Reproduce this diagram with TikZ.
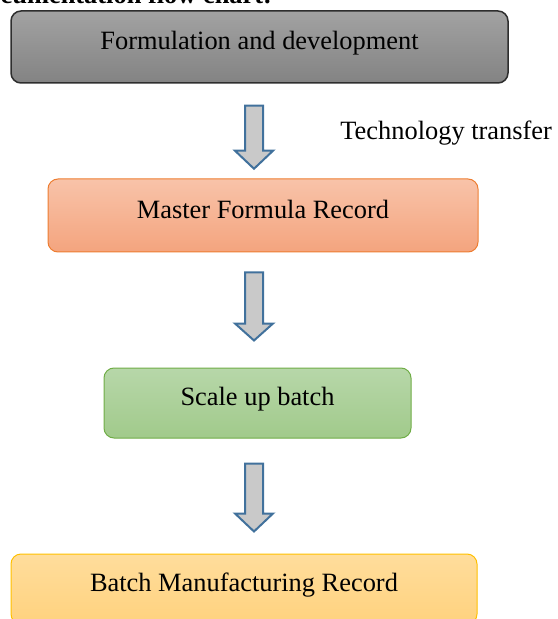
\documentclass[tikz,border=0pt]{standalone}
\usepackage{fontspec}
\setmainfont{Liberation Serif}
\usetikzlibrary{calc}

\definecolor{grayTop}{HTML}{A2A2A2}
\definecolor{grayBot}{HTML}{838383}
\definecolor{grayLine}{HTML}{2E2E2E}
\definecolor{salmonTop}{HTML}{F8C3A9}
\definecolor{salmonBot}{HTML}{F4A47E}
\definecolor{salmonLine}{HTML}{ED7D31}
\definecolor{greenTop}{HTML}{B7D7A9}
\definecolor{greenBot}{HTML}{A1CA8B}
\definecolor{greenLine}{HTML}{70AD47}
\definecolor{goldTop}{HTML}{FFDD9C}
\definecolor{goldBot}{HTML}{FFD27E}
\definecolor{goldLine}{HTML}{FFC000}
\definecolor{arrowFill}{HTML}{C9C9C9}
\definecolor{arrowLine}{HTML}{41719C}

\tikzset{
  stagebox/.style={rectangle, rounded corners=5pt, inner sep=0pt,
    text height=5.6pt, text depth=3pt,
    font=\fontsize{13.2}{15}\selectfont},
  darkbox/.style={stagebox, top color=grayTop, bottom color=grayBot,
    draw=grayLine, line width=0.75pt},
  mfrbox/.style={stagebox, top color=salmonTop, bottom color=salmonBot,
    draw=salmonLine, line width=0.5pt},
  scalebox/.style={stagebox, top color=greenTop, bottom color=greenBot,
    draw=greenLine, line width=0.5pt},
  bmrbox/.style={stagebox, top color=goldTop, bottom color=goldBot,
    draw=goldLine, line width=0.5pt},
  blockdown/.style={fill=arrowFill, draw=arrowLine, line width=1pt,
    line join=miter},
  plaintext/.style={inner sep=0pt, font=\fontsize{13.2}{15}\selectfont},
}

\begin{document}
\begin{tikzpicture}[x=0.5pt, y=-0.5pt]
  \useasboundingbox (0,0) rectangle (557,619);
  \clip (0,0) rectangle (557,619);

  % heading of the section (runs past the page edges)
  \node[plaintext, anchor=base west, font=\fontsize{13.2}{15}\selectfont\bfseries]
    (heading) at (-32,4) {Documentation flow chart:};

  % the four stages
  \node[darkbox, minimum width=497*0.5pt, minimum height=72*0.5pt]
    (formdev) at (259.5,47) {Formulation and development};
  \node[mfrbox, minimum width=430*0.5pt, minimum height=73*0.5pt]
    (mfr) at (263,215.5) {Master Formula Record};
  \node[scalebox, minimum width=307*0.5pt, minimum height=70*0.5pt]
    (scaleup) at (257.5,403) {Scale up batch};
  \node[bmrbox, minimum width=466*0.5pt, minimum height=70*0.5pt]
    (bmr) at (244,589) {Batch Manufacturing Record};

  \node[plaintext, anchor=base west] (techtransfer) at (340,140) {Technology transfer};

  % block arrows between the stages, hung from the box above
  \coordinate (a1) at ($(formdev.south) + (-5.5,22)$);
  \coordinate (a2) at ($(mfr.south) + (-9,20)$);
  \coordinate (a3) at ($(scaleup.south) + (-3.5,25)$);

  \foreach \top/\shaft/\head in {a1/45/18, a2/51/17, a3/50/18}{
    \draw[blockdown] (\top) ++(-9,0) -- ++(18,0) -- ++(0,\shaft) -- ++(10,0)
      -- ++(-19,\head) -- ++(-19,-\head) -- ++(10,0) -- cycle;
  }
\end{tikzpicture}
\end{document}
